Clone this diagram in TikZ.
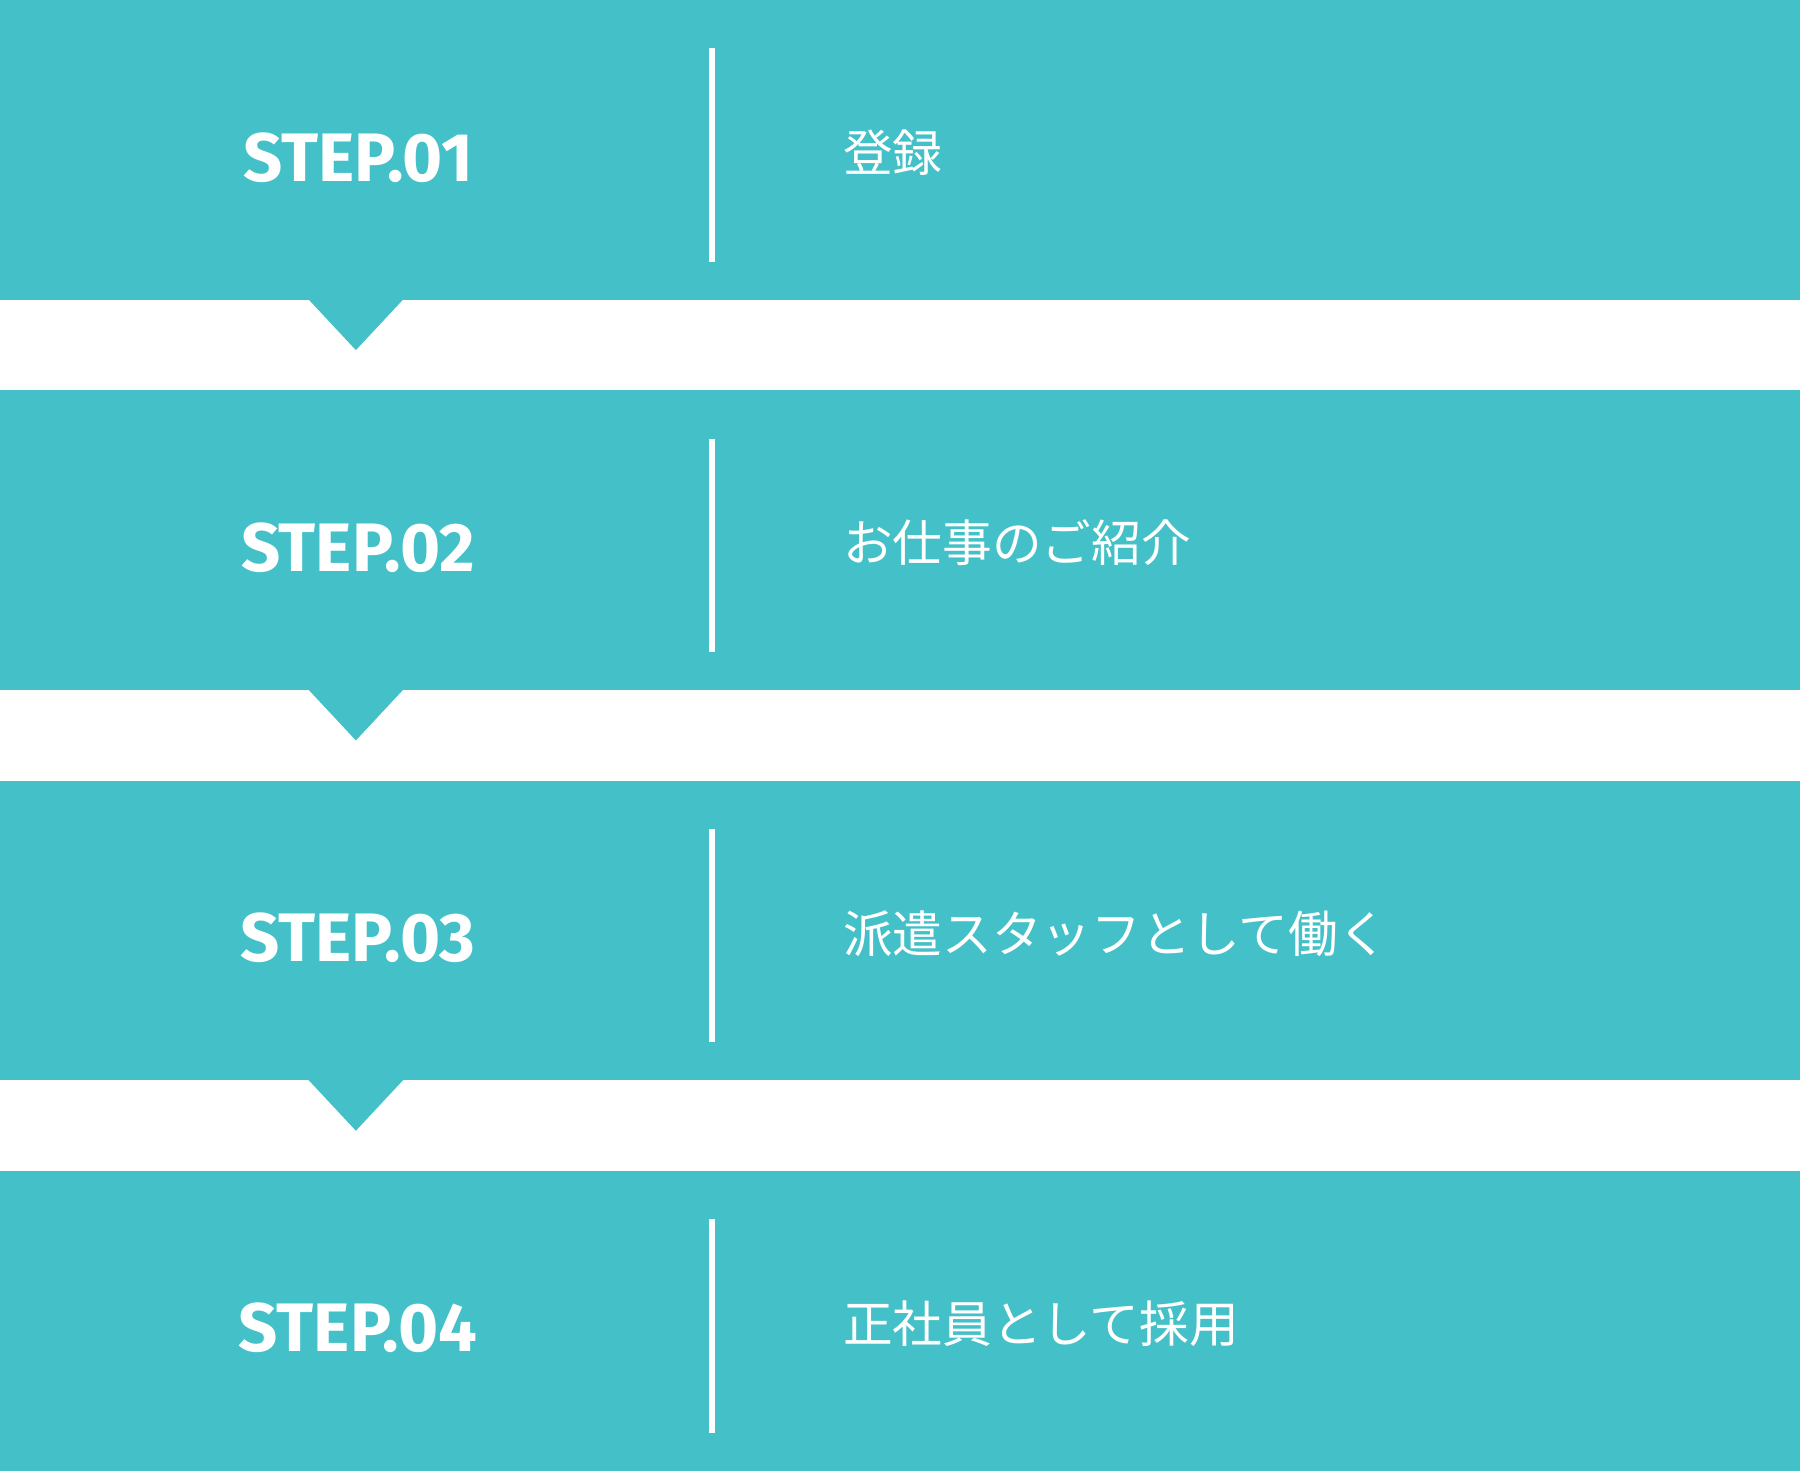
\documentclass[tikz,border=0pt]{standalone}
\usepackage{fontspec}
\setsansfont{Fira Sans}
\newfontfamily\jpfont{Noto Sans CJK JP}
\usetikzlibrary{positioning}
\definecolor{stepteal}{HTML}{44C1C8}

\begin{document}
\begin{tikzpicture}[x=0.01cm,y=-0.01cm]
    \tikzstyle{StepBand}=[fill = stepteal]
    \tikzstyle{StepLabel}=[text = white, font = \sffamily\bfseries\fontsize{17}{17}\selectfont]
    \tikzstyle{StepText}=[text = white, anchor = west, font = \jpfont\fontsize{12.3}{12.3}\selectfont]
    \tikzstyle{Divider}=[draw = white, line width = 1.4pt]
   \useasboundingbox (0,0) rectangle (1568,1281);
   \foreach \i/\txt in {0/登録,1/お仕事のご紹介,2/派遣スタッフとして働く,3/正社員として採用}{
      \pgfmathsetmacro{\top}{\i*340}
      \fill[StepBand] (0,\top) rectangle (1568,\top+261);
      \ifnum\i<3
        \fill[StepBand] (268,\top+260) -- (352,\top+260) -- (310,\top+305) -- cycle;
      \fi
      \pgfmathtruncatemacro{\n}{\i+1}
      \node[StepLabel] (step\n) at (312,\top+137) {STEP.0\n};
      \node[StepText] (text\n) at (722,\top+133) {\txt};
      \coordinate (divtop\n) at (620,\top+42);
      \coordinate (divbot\n) at (620,\top+228);
      \draw[Divider] (divtop\n) -- (divbot\n);
   }
  \end{tikzpicture}
\end{document}
